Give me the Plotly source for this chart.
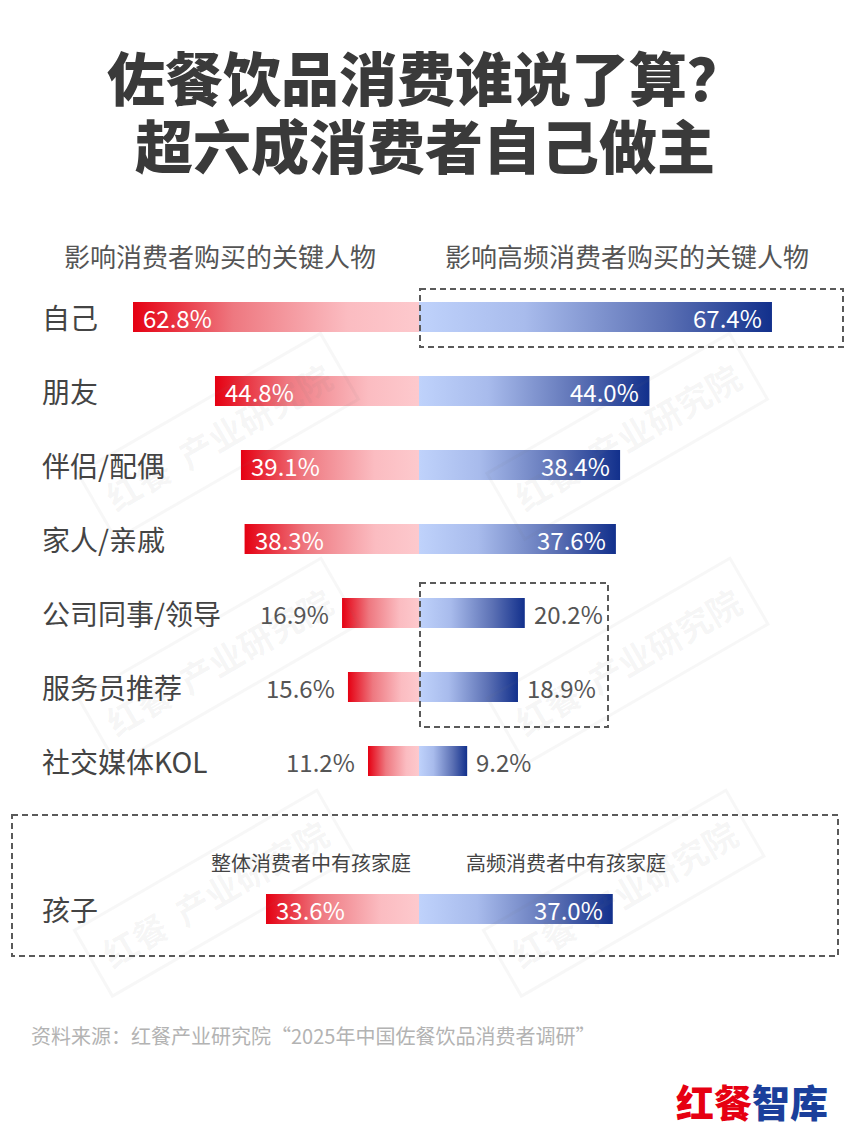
import plotly.graph_objects as go

# ---------------- data ----------------
categories = ["自己", "朋友", "伴侣/配偶", "家人/亲戚", "公司同事/领导", "服务员推荐", "社交媒体KOL", "孩子"]
row_index = [0, 1, 2, 3, 4, 5, 6, 8]
all_consumers = [62.8, 44.8, 39.1, 38.3, 16.9, 15.6, 11.2, 33.6]
frequent_consumers = [67.4, 44.0, 38.4, 37.6, 20.2, 18.9, 9.2, 37.0]

title_lines = ["佐餐饮品消费谁说了算？", "超六成消费者自己做主"]
headers = ["影响消费者购买的关键人物", "影响高频消费者购买的关键人物"]
child_headers = ["整体消费者中有孩家庭", "高频消费者中有孩家庭"]
source_text = "资料来源：红餐产业研究院“2025年中国佐餐饮品消费者调研”"
watermark_text = "红餐  产业研究院"

# ---------------- layout helpers ----------------
W, H = 850, 1133
CENTER = 419.0
LEFT_PX_PER = 4.554
RIGHT_PX_PER = 5.237
ROW0_PX = 317.0
ROW_STEP = 74.0
BAR_HALF = 15.0 / ROW_STEP
FONT = "Noto Sans CJK SC"


def X(px):
    return px / W


def Y(py):
    return 1 - py / H


left_scale = [[0, "#fdc9cd"], [0.25, "#fbbcc1"], [0.65, "#ee7880"], [1, "#e50012"]]
right_scale = [[0, "#bfd2fb"], [0.3, "#a8bbec"], [0.7, "#5b70b4"], [1, "#12308c"]]

fig = go.Figure()

for r, lv, rv in zip(row_index, all_consumers, frequent_consumers):
    ys = [r - BAR_HALF, r - BAR_HALF, r + BAR_HALF, r + BAR_HALF, r - BAR_HALF]
    fig.add_trace(go.Scatter(
        x=[0, lv, lv, 0, 0], y=ys, xaxis="x", yaxis="y",
        mode="lines", line=dict(width=0), fill="toself",
        fillgradient=dict(type="horizontal", colorscale=left_scale, start=0, stop=lv),
        hoverinfo="skip", showlegend=False))
    fig.add_trace(go.Scatter(
        x=[0, rv, rv, 0, 0], y=ys, xaxis="x2", yaxis="y",
        mode="lines", line=dict(width=0), fill="toself",
        fillgradient=dict(type="horizontal", colorscale=right_scale, start=0, stop=rv),
        hoverinfo="skip", showlegend=False))

annotations = []

# watermarks (drawn first, very faint)
for wx, wy in [(218, 437), (627, 437), (218, 661), (627, 661), (214, 893), (623, 893)]:
    annotations.append(dict(xref="paper", yref="paper", x=X(wx), y=Y(wy), text=watermark_text,
                            showarrow=False, textangle=-30, xanchor="center", yanchor="middle",
                            font=dict(family=FONT, size=34, color="rgba(120,120,120,0.07)", weight=700),
                            bordercolor="rgba(120,120,120,0.06)", borderwidth=3, borderpad=12))

# category labels and value labels
for cat, r, lv, rv in zip(categories, row_index, all_consumers, frequent_consumers):
    annotations.append(dict(xref="paper", yref="y", x=X(40), y=r, text=cat,
                            xanchor="left", yanchor="middle", showarrow=False,
                            font=dict(family=FONT, size=28, color="#444444")))
    inside_l = lv > 30
    annotations.append(dict(xref="x", yref="y", x=lv, y=r, text=f"{lv:.1f}%",
                            xanchor="left" if inside_l else "right",
                            xshift=8 if inside_l else -11, yanchor="middle",
                            showarrow=False,
                            font=dict(family=FONT, size=24,
                                      color="#ffffff" if inside_l else "#555555")))
    inside_r = rv > 30
    annotations.append(dict(xref="x2", yref="y", x=rv, y=r, text=f"{rv:.1f}%",
                            xanchor="right" if inside_r else "left",
                            xshift=-8 if inside_r else 7, yanchor="middle",
                            showarrow=False,
                            font=dict(family=FONT, size=24,
                                      color="#ffffff" if inside_r else "#555555")))

# title
annotations.append(dict(xref="paper", yref="paper", x=X(426), y=Y(76), text=title_lines[0],
                        showarrow=False, xanchor="center", yanchor="middle",
                        font=dict(family=FONT, size=58, color="#3a3a3a", weight=900)))
annotations.append(dict(xref="paper", yref="paper", x=X(425), y=Y(144), text=title_lines[1],
                        showarrow=False, xanchor="center", yanchor="middle",
                        font=dict(family=FONT, size=58, color="#3a3a3a", weight=900)))

# headers
annotations.append(dict(xref="paper", yref="paper", x=X(220), y=Y(256), text=headers[0],
                        showarrow=False, xanchor="center", yanchor="middle",
                        font=dict(family=FONT, size=26, color="#555555")))
annotations.append(dict(xref="paper", yref="paper", x=X(627), y=Y(256), text=headers[1],
                        showarrow=False, xanchor="center", yanchor="middle",
                        font=dict(family=FONT, size=26, color="#555555")))
annotations.append(dict(xref="paper", yref="paper", x=X(311), y=Y(862), text=child_headers[0],
                        showarrow=False, xanchor="center", yanchor="middle",
                        font=dict(family=FONT, size=20, color="#444444")))
annotations.append(dict(xref="paper", yref="paper", x=X(566), y=Y(862), text=child_headers[1],
                        showarrow=False, xanchor="center", yanchor="middle",
                        font=dict(family=FONT, size=20, color="#444444")))

# source
annotations.append(dict(xref="paper", yref="paper", x=X(29), y=Y(1035), text=source_text,
                        showarrow=False, xanchor="left", yanchor="middle",
                        font=dict(family=FONT, size=20, color="#b3b3b3")))

# logo
annotations.append(dict(xref="paper", yref="paper", x=X(830), y=Y(1100),
                        text='<span style="color:#e60012">红餐</span><span style="color:#1b3f9b">智库</span>',
                        showarrow=False, xanchor="right", yanchor="middle",
                        font=dict(family=FONT, size=38, weight=900)))

# dashed boxes
dash_line = dict(color="#5a5a5a", width=2, dash="6px,4px")
shapes = [
    dict(type="rect", xref="paper", yref="paper", x0=X(420), x1=X(843), y0=Y(289), y1=Y(347),
         line=dash_line, fillcolor="rgba(0,0,0,0)"),
    dict(type="rect", xref="paper", yref="paper", x0=X(420), x1=X(608), y0=Y(583), y1=Y(727),
         line=dash_line, fillcolor="rgba(0,0,0,0)"),
    dict(type="rect", xref="paper", yref="paper", x0=X(12), x1=X(838), y0=Y(815), y1=Y(956),
         line=dash_line, fillcolor="rgba(0,0,0,0)"),
]

y_top = -ROW0_PX / ROW_STEP
y_bot = (H - ROW0_PX) / ROW_STEP

fig.update_layout(
    width=W, height=H,
    margin=dict(l=0, r=0, t=0, b=0),
    paper_bgcolor="white", plot_bgcolor="white",
    xaxis=dict(domain=[0, X(CENTER)], range=[CENTER / LEFT_PX_PER, 0], visible=False, fixedrange=True),
    xaxis2=dict(domain=[X(CENTER), 1], range=[0, (W - CENTER) / RIGHT_PX_PER], visible=False,
                anchor="y", fixedrange=True),
    yaxis=dict(domain=[0, 1], range=[y_bot, y_top], visible=False, fixedrange=True),
    annotations=annotations,
    shapes=shapes,
    showlegend=False,
)

fig.write_html("out.html", config={"displayModeBar": False},
               post_script="document.body.style.margin='0';")
